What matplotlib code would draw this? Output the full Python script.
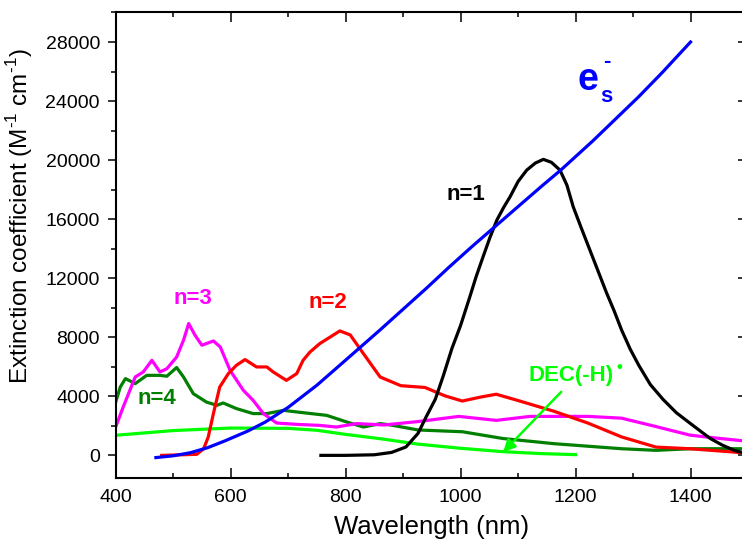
import matplotlib
matplotlib.use("Agg")
import matplotlib.pyplot as plt
from matplotlib.ticker import MultipleLocator

plt.rcParams['font.family'] = ['Liberation Sans', 'DejaVu Sans']
plt.rcParams['mathtext.fontset'] = 'custom'
plt.rcParams['mathtext.rm'] = 'Liberation Sans'
plt.rcParams['mathtext.bf'] = 'Liberation Sans:bold'

# solvated electron
es_x = [470, 500, 530, 560, 590, 630, 660, 700, 750, 800, 860, 900, 940, 980,
        1020, 1060, 1100, 1140, 1175, 1230, 1270, 1310, 1350, 1400]
es_y = [-150, -30, 180, 520, 980, 1650, 2250, 3250, 4750, 6450, 8500, 9900,
        11300, 12750, 14150, 15500, 16850, 18200, 19350, 21300, 22800, 24300,
        25900, 28000]

# n=1
n1_x = [757, 800, 850, 880, 905, 926, 940, 956, 970, 985, 1000, 1016, 1027,
        1039, 1051, 1063, 1075, 1086, 1100, 1115, 1130, 1144, 1158, 1173, 1185,
        1196, 1210, 1225, 1240, 1254, 1267, 1280, 1295, 1310, 1330, 1352, 1375,
        1399, 1434, 1455, 1476, 1500]
n1_y = [0, 0, 40, 200, 570, 1490, 2600, 3800, 5400, 7250, 8800, 10730, 12100,
        13440, 14750, 15930, 16800, 17510, 18550, 19320, 19800, 20050, 19850,
        19320, 18300, 16830, 15400, 13900, 12400, 11000, 9800, 8500, 7200,
        6100, 4800, 3800, 2900, 2180, 1150, 700, 340, 100]

# n=2
n2_x = [480, 541, 553, 561, 570, 581, 596, 610, 625, 645, 663, 674, 697, 715,
        726, 738, 755, 790, 808, 831, 860, 896, 938, 973, 1003, 1035, 1062,
        1103, 1163, 1222, 1280, 1340, 1399, 1500]
n2_y = [0, 70, 450, 1240, 2830, 4630, 5540, 6100, 6490, 5990, 5990, 5650,
        5080, 5540, 6440, 7000, 7570, 8430, 8160, 6890, 5310, 4720, 4600,
        4030, 3680, 3950, 4140, 3680, 2980, 2180, 1250, 560, 450, 150]

# n=3
n3_x = [400, 413, 434, 448, 463, 477, 489, 506, 518, 527, 538, 550, 570, 582,
        599, 622, 639, 657, 680, 715, 755, 784, 819, 867, 926, 997, 1062,
        1121, 1222, 1280, 1340, 1399, 1450, 1500]
n3_y = [1920, 3270, 5310, 5650, 6440, 5650, 5870, 6660, 7800, 8930, 8140,
        7460, 7750, 7340, 5760, 4410, 3730, 2830, 2190, 2100, 2030, 1920,
        2150, 2060, 2290, 2640, 2370, 2640, 2640, 2520, 1950, 1370, 1150, 950]

# n=4
n4_x = [400, 408, 417, 434, 454, 477, 489, 506, 518, 535, 558, 576, 587, 610,
        639, 663, 692, 715, 767, 802, 831, 860, 878, 926, 1003, 1074, 1163,
        1280, 1340, 1400, 1500]
n4_y = [3610, 4630, 5200, 4860, 5420, 5420, 5360, 5950, 5310, 4180, 3610,
        3390, 3550, 3170, 2830, 2830, 3050, 2940, 2710, 2260, 1920, 2150,
        2060, 1720, 1600, 1140, 790, 450, 340, 450, 450]

# DEC(-H) radical
dec_x = [400, 500, 600, 700, 750, 800, 860, 926, 1000, 1074, 1140, 1200]
dec_y = [1360, 1680, 1850, 1830, 1700, 1420, 1130, 760, 480, 250, 120, 50]

fig = plt.figure(figsize=(7.42, 5.50), dpi=100)
ax = fig.add_axes([0.1559, 0.1318, 0.8522, 0.8455])

lw = 2.3
ax.plot(dec_x, dec_y, color='#00FF00', lw=lw)
ax.plot(n4_x, n4_y, color='#007F00', lw=lw)
ax.plot(n3_x, n3_y, color='#FF00FF', lw=lw)
ax.plot(n2_x, n2_y, color='#FF0000', lw=lw)
ax.plot(n1_x, n1_y, color='black', lw=lw)
ax.plot(es_x, es_y, color='#0000FF', lw=lw)

ax.set_xlim(400, 1500)
ax.set_ylim(-1500, 30000)

ax.xaxis.set_major_locator(MultipleLocator(200))
ax.xaxis.set_minor_locator(MultipleLocator(100))
ax.yaxis.set_major_locator(MultipleLocator(4000))
ax.yaxis.set_minor_locator(MultipleLocator(2000))

ax.tick_params(axis='x', which='both', top=True, bottom=True, direction='in',
               width=1.1, labelsize=14, pad=8)
ax.tick_params(axis='x', which='major', length=7.2)
ax.tick_params(axis='x', which='minor', length=3.6)
ax.tick_params(axis='y', which='both', left=True, right=False, direction='out',
               width=1.1, labelsize=14, pad=5.5)
ax.tick_params(axis='y', which='major', length=5.8)
ax.tick_params(axis='y', which='minor', length=3.6)

sec = ax.secondary_yaxis('right')
sec.yaxis.set_major_locator(MultipleLocator(4000))
sec.yaxis.set_minor_locator(MultipleLocator(2000))
sec.tick_params(which='both', direction='in', width=1.1, labelright=False)
sec.tick_params(which='major', length=7.2)
sec.tick_params(which='minor', length=3.6)

for sp in list(ax.spines.values()) + list(sec.spines.values()):
    sp.set_linewidth(1.5)

ax.set_xlabel('Wavelength (nm)', fontsize=18.5, labelpad=7)
ax.set_ylabel(r'Extinction coefficient (M$^{\text{-1}}$ cm$^{\text{-1}}$)',
              fontsize=17.5)
ax.yaxis.set_label_coords(-0.128, 0.5624)

bold = dict(fontsize=16, fontweight='bold', ha='center', va='center')
ax.text(1010, 17700, 'n=1', color='black', **bold)
ax.text(769, 10330, 'n=2', color='#FF0000', **bold)
ax.text(535, 10620, 'n=3', color='#FF00FF', **bold)
ax.text(471, 3840, 'n=4', color='#007F00', **bold)

# e_s^- label built from pieces so the superscript stays a short dash
ax.text(1222, 25400, 'e', color='#0000FF', fontsize=27, fontweight='bold',
        ha='center', va='center')
ax.text(1254, 24300, 's', color='#0000FF', fontsize=16, fontweight='bold',
        ha='center', va='center')
ax.text(1254, 26700, '-', color='#0000FF', fontsize=16, fontweight='bold',
        ha='center', va='center')

ax.text(1193, 5400, 'DEC(-H)', color='#00FF00', **bold)
ax.text(1277, 5970, '•', color='#00FF00', fontsize=12, fontweight='bold',
        ha='center', va='center')
ax.annotate('', xy=(1074, 220), xytext=(1175, 4300),
            arrowprops=dict(arrowstyle='-|>', color='#00FF00', lw=1.8,
                            mutation_scale=18, shrinkA=0, shrinkB=0))

fig.savefig('out.png', dpi=100)
